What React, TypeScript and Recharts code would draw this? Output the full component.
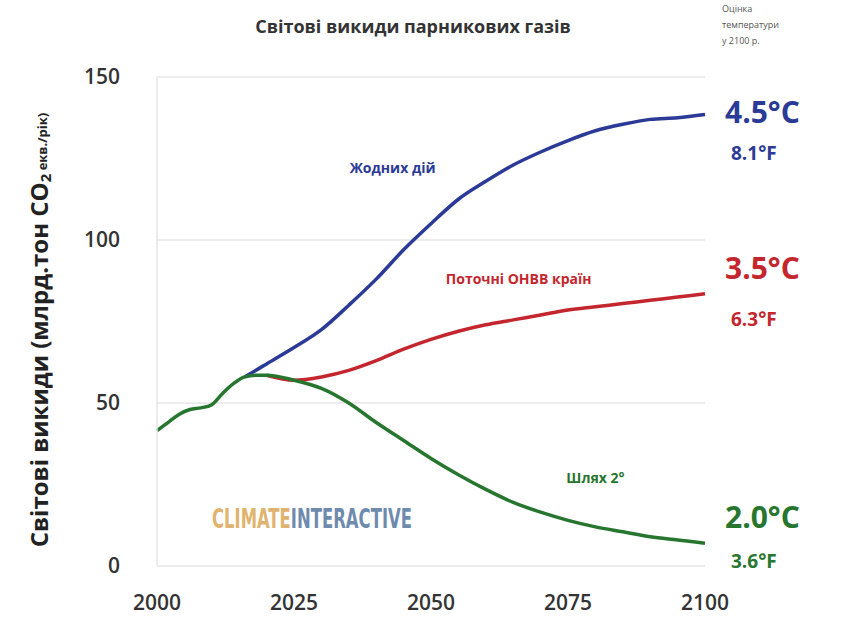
import React from 'react'
import {
  LineChart,
  Line,
  XAxis,
  YAxis,
  CartesianGrid,
  ReferenceDot,
  Customized,
} from 'recharts'

document.body.style.margin = '0'

const years = [
  2000, 2002, 2004, 2006, 2008, 2010, 2012, 2014, 2016, 2018, 2020, 2025, 2030, 2035, 2040, 2045,
  2050, 2055, 2060, 2065, 2070, 2075, 2080, 2085, 2090, 2095, 2100,
]

// Шлях 2° (включно з історичними даними)
const path2 = [
  41.5, 44, 46.5, 48, 48.5, 49.5, 53, 56, 58, 58.5, 58.5, 57, 54.5, 50, 44, 38.5, 33, 28, 23.5,
  19.5, 16.5, 14, 12, 10.5, 9, 8, 7,
]
// Жодних дій
const noAction = [
  null, null, null, null, null, null, null, null, 58, 60, 62, 67, 72.5, 80, 88, 97, 105, 112.5,
  118, 123, 127, 130.5, 133.5, 135.5, 137, 137.5, 138.5,
]
// Поточні ОНВВ країн
const currentNdc = [
  null, null, null, null, null, null, null, null, null, null, 58.5, 57, 58, 60, 63, 66.5, 69.5,
  72, 74, 75.5, 77, 78.5, 79.5, 80.5, 81.5, 82.5, 83.5,
]

const xTicks = [2000, 2025, 2050, 2075, 2100]
const yTicks = [0, 50, 100, 150]

const data = years.map((year, i) => ({
  year,
  path2: path2[i],
  noAction: noAction[i],
  currentNdc: currentNdc[i],
}))

const BLUE = '#2b3a97'
const RED = '#c4262e'
const GREEN = '#27762f'

const endLabel = (color: string, c: string, f: string, dyC: number, dyF: number) => (props: any) => {
  const { x, y, index } = props
  if (index !== data.length - 1) return null
  return (
    <g>
      <text x={x + 20} y={y + dyC} fill={color} fontSize={30} fontWeight={700}
        fontFamily="'Open Sans', sans-serif" dominantBaseline="middle">{c}</text>
      <text x={x + 26} y={y + dyF} fill={color} fontSize={19} fontWeight={700}
        fontFamily="'Open Sans', sans-serif" dominantBaseline="middle">{f}</text>
    </g>
  )
}

const Decorations = () => (
  <g fontFamily="'Open Sans', sans-serif">
    <text x={413} y={28} textAnchor="middle" fontSize={18} fontWeight={700} fill="#333"
      dominantBaseline="middle">Світові викиди парникових газів</text>
    <text x={722} y={10} fontSize={9} fill="#555" dominantBaseline="middle">Оцінка</text>
    <text x={722} y={26} fontSize={9} fill="#555" dominantBaseline="middle">температури</text>
    <text x={722} y={42} fontSize={9} fill="#555" dominantBaseline="middle">у 2100 р.</text>
    <text transform="translate(42,330) rotate(-90)" textAnchor="middle" fontSize={24}
      fontWeight={700} fill="#222" dominantBaseline="middle">
      Світові викиди (млрд.тон CO<tspan fontSize={15} dy={5}>2</tspan>
      <tspan fontSize={13} dy={-3}> екв./рік)</tspan>
    </text>
    <text x={212} y={520} fontSize={26} fontWeight={700} opacity={0.8}
      fontFamily="'Liberation Sans Narrow', 'DejaVu Sans Condensed', sans-serif"
      dominantBaseline="middle" textLength={200} lengthAdjust="spacingAndGlyphs">
      <tspan fill="#d9a24a">CLIMATE</tspan>
      <tspan fill="#4a6f9a">INTERACTIVE</tspan>
    </text>
  </g>
)

const App = () => (
  <LineChart
    width={846}
    height={627}
    data={data}
    margin={{ top: 77, right: 141, bottom: 31, left: 97 }}
  >
    <CartesianGrid vertical={false} stroke="#e6e6e6" strokeWidth={1.5} />
    <XAxis
      dataKey="year"
      type="number"
      domain={[2000, 2100]}
      ticks={xTicks}
      height={30}
      axisLine={false}
      tickLine={false}
      tickMargin={23}
      tick={{ fill: '#333', fontSize: 21, fontFamily: "'Open Sans', sans-serif", fontWeight: 600 }}
    />
    <YAxis
      type="number"
      domain={[0, 150]}
      ticks={yTicks}
      width={60}
      axisLine={{ stroke: '#e6e6e6', strokeWidth: 1.5 }}
      tickLine={false}
      tickMargin={31}
      tick={{ fill: '#333', fontSize: 21, fontFamily: "'Open Sans', sans-serif", fontWeight: 600 }}
    />
    <Line type="monotone" dataKey="noAction" stroke={BLUE} strokeWidth={3.5} dot={false}
      isAnimationActive={false} label={endLabel(BLUE, '4.5°C', '8.1°F', 0, 40)} />
    <Line type="monotone" dataKey="currentNdc" stroke={RED} strokeWidth={3.5} dot={false}
      isAnimationActive={false} label={endLabel(RED, '3.5°C', '6.3°F', -23, 27)} />
    <Line type="monotone" dataKey="path2" stroke={GREEN} strokeWidth={3.5} dot={false}
      isAnimationActive={false} label={endLabel(GREEN, '2.0°C', '3.6°F', -23, 20)} />
    <ReferenceDot x={2043} y={122} r={0} stroke="none"
      label={{ value: 'Жодних дій', fill: BLUE, fontSize: 14, fontWeight: 700, fontFamily: "'Open Sans', sans-serif" }} />
    <ReferenceDot x={2066} y={88} r={0} stroke="none"
      label={{ value: 'Поточні ОНВВ країн', fill: RED, fontSize: 14, fontWeight: 700, fontFamily: "'Open Sans', sans-serif" }} />
    <ReferenceDot x={2080} y={27} r={0} stroke="none"
      label={{ value: 'Шлях 2°', fill: GREEN, fontSize: 14, fontWeight: 700, fontFamily: "'Open Sans', sans-serif" }} />
    <Customized component={Decorations} />
  </LineChart>
)

export default App
